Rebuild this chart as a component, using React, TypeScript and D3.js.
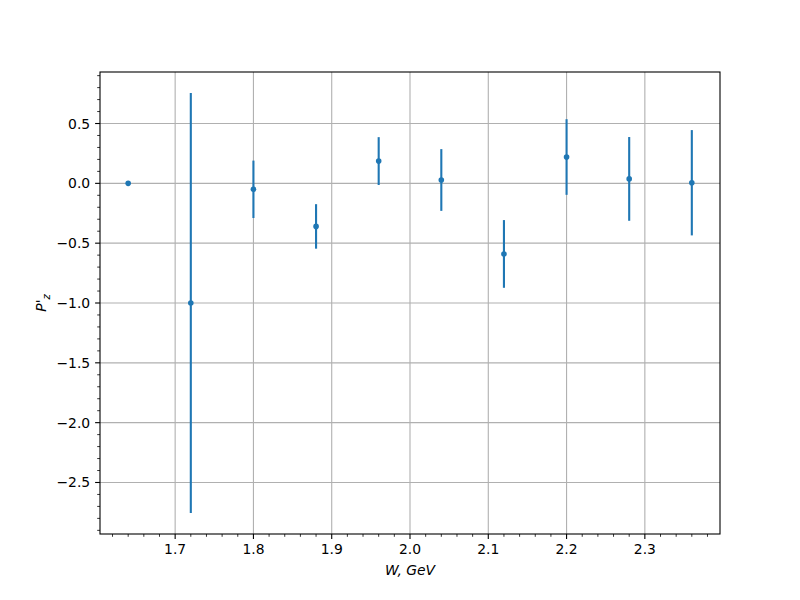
import React from 'react';
import * as d3 from 'd3';

const wValues = [1.64, 1.72, 1.8, 1.88, 1.96, 2.04, 2.12, 2.2, 2.28, 2.36];
const pzValues = [0.0, -1.0, -0.05, -0.36, 0.186, 0.028, -0.59, 0.22, 0.037, 0.005];
const pzErrors = [0.0, 1.755, 0.24, 0.186, 0.2, 0.258, 0.283, 0.316, 0.35, 0.44];
const xTickValues = [1.7, 1.8, 1.9, 2.0, 2.1, 2.2, 2.3];
const yTickValues = [-2.5, -2.0, -1.5, -1.0, -0.5, 0.0, 0.5];

const W = 800, H = 600;
const left = 100, right = 720, top = 72, bottom = 534;
const color = '#1f77b4';
const font = 'DejaVu Sans, sans-serif';
const fs = 13.9;

export default function App() {
  const xMin = d3.min(wValues)!, xMax = d3.max(wValues)!;
  const xPad = (xMax - xMin) * 0.05;
  const lows = pzValues.map((v, i) => v - pzErrors[i]);
  const highs = pzValues.map((v, i) => v + pzErrors[i]);
  const yMin = d3.min(lows)!, yMax = d3.max(highs)!;
  const yPad = (yMax - yMin) * 0.05;

  const x = d3.scaleLinear().domain([xMin - xPad, xMax + xPad]).range([left, right]);
  const y = d3.scaleLinear().domain([yMin - yPad, yMax + yPad]).range([bottom, top]);

  const fmt = (v: number) => v.toFixed(1).replace('-', '\u2212');

  const xMinor: number[] = [];
  for (let k = Math.ceil(x.domain()[0] / 0.02); k * 0.02 <= x.domain()[1]; k++) {
    const v = +(k * 0.02).toFixed(4);
    if (!xTickValues.some(t => Math.abs(t - v) < 1e-6)) xMinor.push(v);
  }
  const yMinor: number[] = [];
  for (let k = Math.ceil(y.domain()[0] / 0.1); k * 0.1 <= y.domain()[1]; k++) {
    const v = +(k * 0.1).toFixed(4);
    if (!yTickValues.some(t => Math.abs(t - v) < 1e-6)) yMinor.push(v);
  }

  return (
    <svg width={W} height={H} style={{ position: 'absolute', left: 0, top: 0, background: '#fff' }} fontFamily={font}>
      <rect x={0} y={0} width={W} height={H} fill="#fff" />
      <g stroke="#b0b0b0" strokeWidth={1.1}>
        {xTickValues.map(t => (
          <line key={'gx' + t} x1={x(t)} x2={x(t)} y1={top} y2={bottom} />
        ))}
        {yTickValues.map(t => (
          <line key={'gy' + t} x1={left} x2={right} y1={y(t)} y2={y(t)} />
        ))}
      </g>
      <g stroke={color} strokeWidth={2.1}>
        {wValues.map((w, i) =>
          pzErrors[i] > 0 ? (
            <line key={'e' + i} x1={x(w)} x2={x(w)} y1={y(pzValues[i] - pzErrors[i])} y2={y(pzValues[i] + pzErrors[i])} />
          ) : null
        )}
      </g>
      <g fill={color}>
        {wValues.map((w, i) => (
          <circle key={'p' + i} cx={x(w)} cy={y(pzValues[i])} r={2.8} />
        ))}
      </g>
      <rect x={left} y={top} width={right - left} height={bottom - top} fill="none" stroke="#000" strokeWidth={1.1} />
      <g stroke="#000" strokeWidth={1.1}>
        {xTickValues.map(t => (
          <line key={'xt' + t} x1={x(t)} x2={x(t)} y1={bottom} y2={bottom + 4.9} />
        ))}
        {xMinor.map(t => (
          <line key={'xm' + t} x1={x(t)} x2={x(t)} y1={bottom} y2={bottom + 2.8} strokeWidth={0.8} />
        ))}
        {yTickValues.map(t => (
          <line key={'yt' + t} x1={left - 4.9} x2={left} y1={y(t)} y2={y(t)} />
        ))}
        {yMinor.map(t => (
          <line key={'ym' + t} x1={left - 2.8} x2={left} y1={y(t)} y2={y(t)} strokeWidth={0.8} />
        ))}
      </g>
      <g fontSize={fs} fill="#000">
        {xTickValues.map(t => (
          <text key={'xl' + t} x={x(t)} y={bottom + 9.8 + 10.2} textAnchor="middle">{t.toFixed(1)}</text>
        ))}
        {yTickValues.map(t => (
          <text key={'yl' + t} x={left - 9.8} y={y(t)} dy="0.36em" textAnchor="end">{fmt(t)}</text>
        ))}
      </g>
      <text x={(left + right) / 2} y={575} textAnchor="middle" fontSize={fs} fontStyle="italic">W, GeV</text>
      <g transform={`translate(46, ${(top + bottom) / 2}) rotate(-90)`}>
        <text textAnchor="middle" fontSize={fs} fontStyle="italic">
          P<tspan fontSize={fs} fontStyle="normal">'</tspan><tspan dy={4} fontSize={10}>z</tspan>
        </text>
      </g>
    </svg>
  );
}
